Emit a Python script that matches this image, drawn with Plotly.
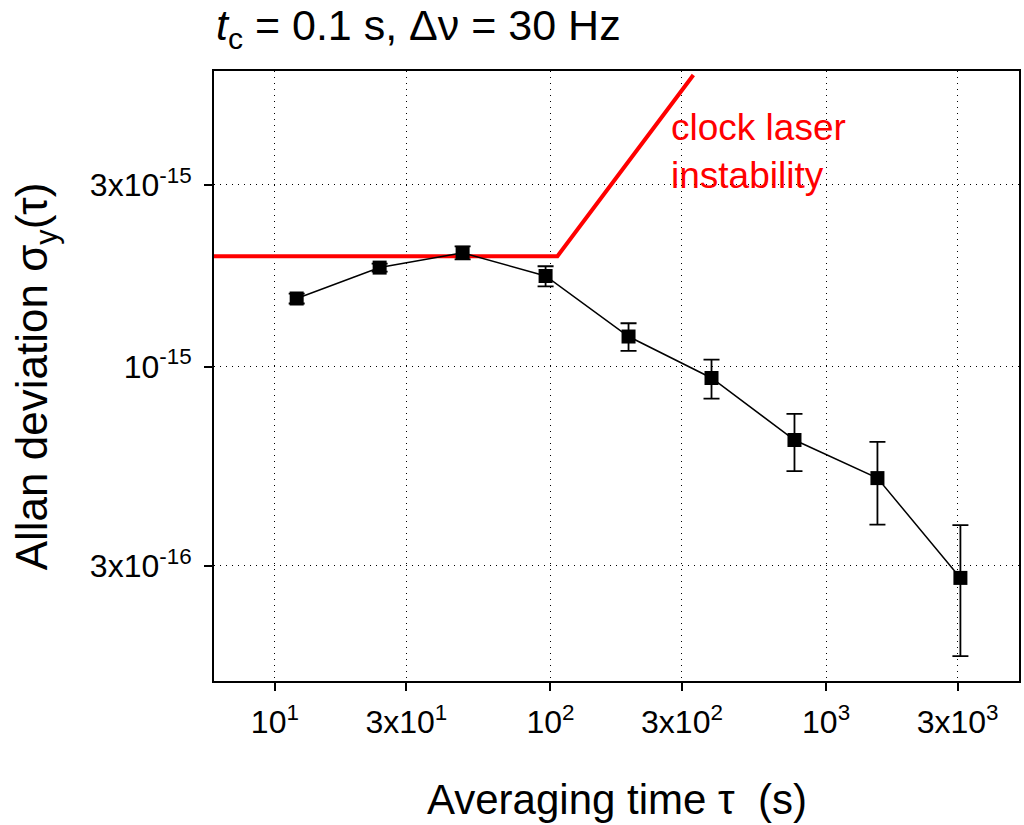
import plotly.graph_objects as go

# ---- data ----
tau = [12, 24, 48, 96, 192, 384, 768, 1536, 3072]
sigma = [1.51e-15, 1.82e-15, 1.99e-15, 1.73e-15, 1.20e-15, 0.934e-15, 0.642e-15, 0.510e-15, 0.279e-15]
sigma_err = [0.045e-15, 0.044e-15, 0.078e-15, 0.105e-15, 0.10e-15, 0.11e-15, 0.11e-15, 0.125e-15, 0.105e-15]

laser_tau = [5.5, 106, 330]
laser_sigma = [1.95e-15, 1.95e-15, 5.83e-15]

x_tickvals = [10, 30, 100, 300, 1000, 3000]
x_ticktext = ["10<sup>1</sup>", "3x10<sup>1</sup>", "10<sup>2</sup>",
              "3x10<sup>2</sup>", "10<sup>3</sup>", "3x10<sup>3</sup>"]
y_tickvals = [3e-16, 1e-15, 3e-15]
y_ticktext = ["3x10<sup>-16</sup>", "10<sup>-15</sup>", "3x10<sup>-15</sup>"]

FONT = "Arial, Liberation Sans, sans-serif"

fig = go.Figure()
fig.add_trace(go.Scatter(
    x=laser_tau, y=laser_sigma, mode="lines",
    line=dict(color="#ff0000", width=4), showlegend=False, hoverinfo="skip"))
fig.add_trace(go.Scatter(
    x=tau, y=sigma, mode="lines+markers",
    line=dict(color="black", width=1.5),
    marker=dict(symbol="square", size=14, color="black"),
    error_y=dict(type="data", array=sigma_err, visible=True,
                 color="black", thickness=1.8, width=8),
    showlegend=False))

axis_common = dict(
    showline=True, linecolor="black", linewidth=2, mirror=True,
    ticks="outside", ticklen=8, tickwidth=2, tickcolor="black",
    showgrid=True, gridcolor="black", gridwidth=1, griddash="1px,5px",
    zeroline=False, tickfont=dict(family=FONT, size=32, color="black"),
)

fig.update_xaxes(type="log", range=[0.7792, 3.700], tickmode="array",
                 tickvals=x_tickvals, ticktext=x_ticktext,
                 ticklabelstandoff=4, **axis_common)
fig.update_yaxes(type="log", range=[-15.825, -14.2239], tickmode="array",
                 tickvals=y_tickvals, ticktext=y_ticktext,
                 ticklabelstandoff=6, **axis_common)

fig.add_annotation(text="<i>t</i><sub>c</sub> = 0.1 s, Δν = 30 Hz",
                   xref="paper", yref="paper", x=0.0, y=1.0705,
                   xanchor="left", yanchor="middle", showarrow=False,
                   font=dict(family=FONT, size=43, color="black"))
fig.add_annotation(text="clock laser<br>instability",
                   xref="paper", yref="paper", x=0.565, y=0.868,
                   xanchor="left", yanchor="middle", align="left", showarrow=False,
                   font=dict(family=FONT, size=37, color="#ff0000"))
fig.add_annotation(text="Averaging time τ  (s)",
                   xref="paper", yref="paper", x=0.5, y=-0.195,
                   xanchor="center", yanchor="middle", showarrow=False,
                   font=dict(family=FONT, size=42, color="black"))
fig.add_annotation(text="Allan deviation σ<sub>y</sub>(τ)",
                   xref="paper", yref="paper", x=-0.222, y=0.5,
                   xanchor="center", yanchor="middle", textangle=-90, showarrow=False,
                   font=dict(family=FONT, size=44, color="black"))

fig.update_layout(
    width=1024, height=825,
    margin=dict(l=214, r=3, t=71, b=144),
    plot_bgcolor="white", paper_bgcolor="white",
    font=dict(family=FONT, color="black"),
)

fig.write_html("out.html")
